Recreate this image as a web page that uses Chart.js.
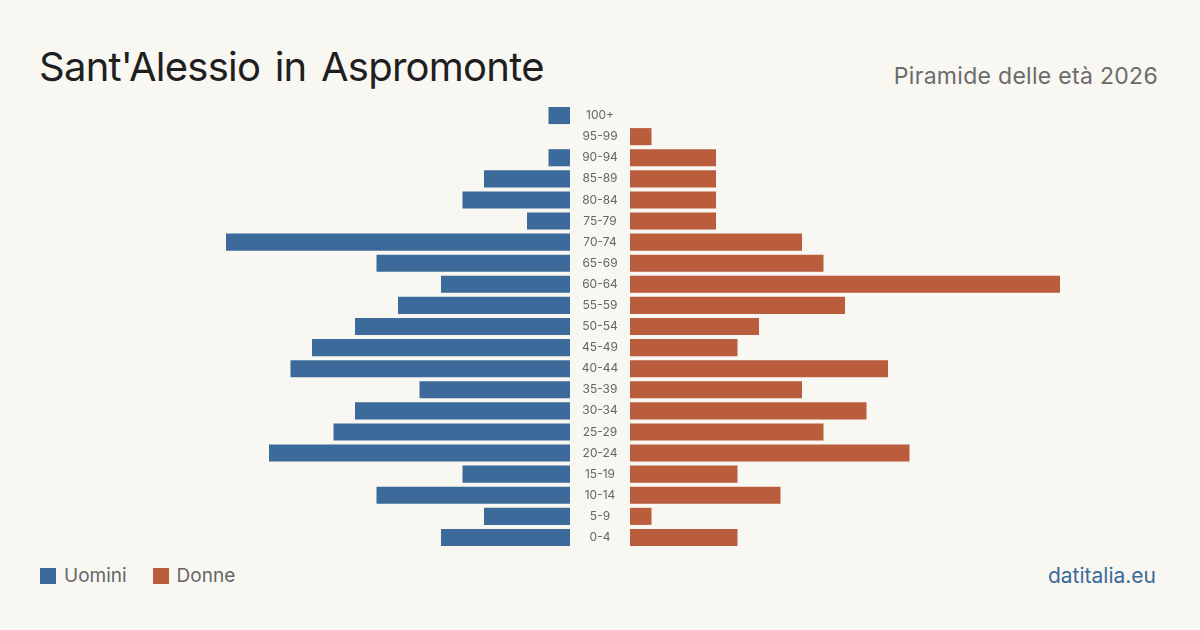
<!DOCTYPE html>
<html><head><meta charset="utf-8">
<script src="https://cdn.jsdelivr.net/npm/chart.js@4/dist/chart.umd.min.js"></script>
<style>
html,body{margin:0;padding:0;background:#f9f7f2;}
body{width:1200px;height:630px;position:relative;overflow:hidden;font-family:Inter,"Noto Sans",sans-serif;}
#title{position:absolute;left:39px;top:43px;font-size:40px;color:#1f1f1f;line-height:48px;letter-spacing:-0.75px;word-spacing:4px;}
#sub{position:absolute;right:42px;top:61px;font-size:23px;color:#6b6b6b;line-height:30px;letter-spacing:0.3px;}
#leg{position:absolute;left:40px;top:564px;font-size:19px;color:#666;line-height:24px;}
#leg span.sw{display:inline-block;width:16px;height:16px;vertical-align:-2px;margin-right:8px;}
#leg span.it{margin-right:26px;}
#src{position:absolute;right:44px;top:563px;font-size:21px;color:#3b6a9b;line-height:26px;}
#cl{position:absolute;left:54px;top:105px;width:576px;height:443px;}
#cr{position:absolute;left:630px;top:105px;width:516px;height:443px;}
</style></head>
<body>
<div id="title">Sant'Alessio in Aspromonte</div>
<div id="sub">Piramide delle età 2026</div>
<div id="leg"><span class="it"><span class="sw" style="background:#3b6a9b"></span>Uomini</span><span class="it"><span class="sw" style="background:#b95d3c"></span>Donne</span></div>
<div id="src">datitalia.eu</div>
<div id="cl"><canvas id="L"></canvas></div>
<div id="cr"><canvas id="R"></canvas></div>
<script>
const ageGroups = ["100+","95-99","90-94","85-89","80-84","75-79","70-74","65-69","60-64","55-59","50-54","45-49","40-44","35-39","30-34","25-29","20-24","15-19","10-14","5-9","0-4"];
const men   = [1,0,1,4,5,2,16,9,6,8,10,12,13,7,10,11,14,5,9,4,6];
const women = [0,1,4,4,4,4,8,9,20,10,6,5,12,8,11,9,13,5,7,1,5];
const axisMax = 24;
const blue = "#3b6a9b", orange = "#b95d3c";

function opts(isLeft){
  const y = isLeft ? {
        display:true, position:'right',
        grid:{display:false,drawTicks:false}, border:{display:false},
        afterFit:(s)=>{s.width=60;s.paddingTop=0;s.paddingBottom=0;},
        ticks:{crossAlign:'center',padding:0,color:'#666',font:{family:'Inter',size:12},
          callback:function(v){return this.getLabelForValue(v);}}
      } : {display:false};
  return {
    indexAxis:'y', responsive:true, maintainAspectRatio:false, animation:false,
    layout:{padding:0},
    plugins:{legend:{display:false},tooltip:{enabled:false}},
    scales:{
      x:{min:0,max:axisMax,reverse:isLeft,display:false},
      y:y
    }
  };
}
const Lc = new Chart(document.getElementById('L'),{type:'bar',data:{labels:ageGroups,datasets:[{data:men,backgroundColor:blue,barPercentage:0.81,categoryPercentage:1}]},options:opts(true)});
const ys = Lc.scales.y;
const widest = ys._getLabelSizes().widest.width;
Lc.options.scales.y.ticks.padding = Math.max(0, 30 - widest/2);
Lc.update('none');
new Chart(document.getElementById('R'),{type:'bar',data:{labels:ageGroups,datasets:[{data:women,backgroundColor:orange,barPercentage:0.81,categoryPercentage:1}]},options:opts(false)});
</script>
</body></html>
